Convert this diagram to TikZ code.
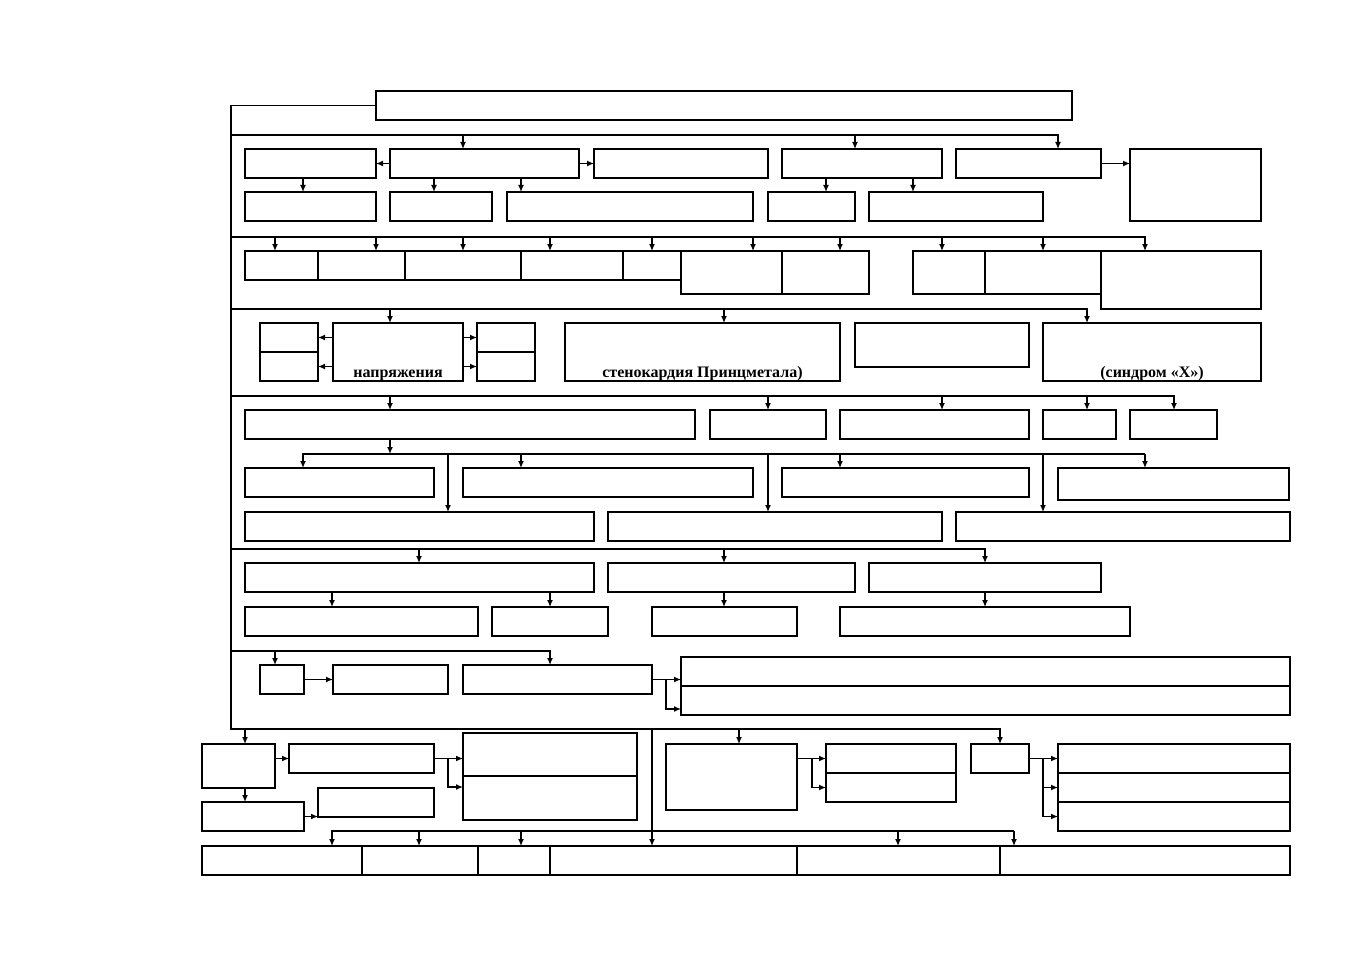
\documentclass[tikz,border=0pt]{standalone}
\usepackage{fontspec}
\setmainfont{Liberation Serif}
\usetikzlibrary{arrows.meta,fit,positioning}

\tikzset{
	blk/.style={draw,line width=1.3pt,inner sep=0pt,outer sep=0pt},
	ln/.style={line width=1.3pt},
	arr/.style={ln,-{Latex[length=7pt,width=6pt]}},
	lbl/.style={font=\fontsize{16}{18}\selectfont\bfseries,anchor=base,inner sep=0pt}
}
\newcommand{\bx}[5]{\node[blk,fit={(#2,#3) (#4,#5)}] (#1) {};}
\newcommand{\dnarr}[3]{\draw[arr] (#1,#2) -- (#1,0 |- #3.north);}
\newcommand{\vdarr}[3]{\draw[arr] (#1,0 |- #2.south) -- (#1,0 |- #3.north);}

\begin{document}
\begin{tikzpicture}[x=1pt,y=-1pt]
	\useasboundingbox (0,0) rectangle (1357,960);
	\bx{top}{376}{91}{1072}{120}
	\bx{a1}{245}{149}{376}{178}
	\bx{a2}{390}{149}{579}{178}
	\bx{a3}{594}{149}{768}{178}
	\bx{a4}{782}{149}{942}{178}
	\bx{a5}{956}{149}{1101}{178}
	\bx{a6}{1130}{149}{1261}{221}
	\bx{b1}{245}{192}{376}{221}
	\bx{b2}{390}{192}{492}{221}
	\bx{b3}{507}{192}{753}{221}
	\bx{b4}{768}{192}{855}{221}
	\bx{b5}{869}{192}{1043}{221}
	\bx{c1}{245}{251}{318}{280}
	\bx{c2}{318}{251}{405}{280}
	\bx{c3}{405}{251}{521}{280}
	\bx{c4}{521}{251}{623}{280}
	\bx{c5}{623}{251}{681}{280}
	\bx{c6}{681}{251}{782}{294}
	\bx{c7}{782}{251}{869}{294}
	\bx{d1}{913}{251}{985}{294}
	\bx{d2}{985}{251}{1101}{294}
	\bx{d3}{1101}{251}{1261}{309}
	\bx{e1}{260}{323}{318}{352}
	\bx{e2}{260}{352}{318}{381}
	\bx{nap}{333}{323}{463}{381}
	\bx{e3}{477}{323}{535}{352}
	\bx{e4}{477}{352}{535}{381}
	\bx{prinz}{565}{323}{840}{381}
	\bx{e5}{855}{323}{1029}{367}
	\bx{synx}{1043}{323}{1261}{381}
	\node[lbl] (napt) at ([yshift=4pt]nap.south) {напряжения};
	\node[lbl] (prinzt) at ([yshift=4pt]prinz.south) {стенокардия Принцметала)};
	\node[lbl] (synxt) at ([yshift=4pt]synx.south) {(синдром «X»)};
	\bx{f1}{245}{410}{695}{439}
	\bx{f2}{710}{410}{826}{439}
	\bx{f3}{840}{410}{1029}{439}
	\bx{f4}{1043}{410}{1116}{439}
	\bx{f5}{1130}{410}{1217}{439}
	\bx{g1}{245}{468}{434}{497}
	\bx{g2}{463}{468}{753}{497}
	\bx{g3}{782}{468}{1029}{497}
	\bx{g4}{1058}{468}{1289}{500}
	\bx{h1}{245}{512}{594}{541}
	\bx{h2}{608}{512}{942}{541}
	\bx{h3}{956}{512}{1290}{541}
	\bx{i1}{245}{563}{594}{592}
	\bx{i2}{608}{563}{855}{592}
	\bx{i3}{869}{563}{1101}{592}
	\bx{j1}{245}{607}{478}{636}
	\bx{j2}{492}{607}{608}{636}
	\bx{j3}{652}{607}{797}{636}
	\bx{j4}{840}{607}{1130}{636}
	\bx{k1}{260}{665}{304}{694}
	\bx{k2}{333}{665}{448}{694}
	\bx{k3}{463}{665}{652}{694}
	\bx{l1}{681}{657}{1290}{686}
	\bx{l2}{681}{686}{1290}{715}
	\bx{m1}{202}{744}{275}{788}
	\bx{m2}{289}{744}{434}{773}
	\bx{m3}{202}{802}{304}{831}
	\bx{m4}{318}{788}{434}{817}
	\bx{n1}{463}{733}{637}{776}
	\bx{n2}{463}{776}{637}{820}
	\bx{q1}{666}{744}{797}{810}
	\bx{q2}{826}{744}{956}{773}
	\bx{q3}{826}{773}{956}{802}
	\bx{r1}{971}{744}{1029}{773}
	\bx{s1}{1058}{744}{1290}{773}
	\bx{s2}{1058}{773}{1290}{802}
	\bx{s3}{1058}{802}{1290}{831}
	\bx{p1}{202}{846}{362}{875}
	\bx{p2}{362}{846}{478}{875}
	\bx{p3}{478}{846}{550}{875}
	\bx{p4}{550}{846}{797}{875}
	\bx{p5}{797}{846}{1000}{875}
	\bx{p6}{1000}{846}{1290}{875}

	\draw[arr] (top.west) -| (231,729) -| (1000,0 |- r1.north);
	\draw[arr] (231,135) -| (1058,0 |- a5.north);
	\dnarr{463}{135}{a2}
	\dnarr{855}{135}{a4}
	\draw[arr] (a2.west) -- (a1.east);
	\draw[arr] (a2.east) -- (a3.west);
	\draw[arr] (a5.east) -- (a5.east -| a6.west);
	\foreach \x/\s/\t in {303/a1/b1,434/a2/b2,521/a2/b3,826/a4/b4,913/a4/b5}
		{\vdarr{\x}{\s}{\t}}
	\draw[arr] (231,237) -| (1145,0 |- d3.north);
	\foreach \x/\t in {275/c1,376/c2,463/c3,550/c4,652/c5,753/c6,840/c7,942/d1,1043/d2}
		{\dnarr{\x}{237}{\t}}
	\draw[arr] (231,309) -| (1087,0 |- synx.north);
	\dnarr{390}{309}{nap}
	\dnarr{724}{309}{prinz}
	\draw[arr] (nap.west |- e1) -- (e1.east);
	\draw[arr] (nap.west |- e2) -- (e2.east);
	\draw[arr] (nap.east |- e3) -- (e3.west);
	\draw[arr] (nap.east |- e4) -- (e4.west);
	\draw[arr] (231,396) -| (1174,0 |- f5.north);
	\foreach \x/\t in {390/f1,768/f2,942/f3,1087/f4}
		{\dnarr{\x}{396}{\t}}
	\draw[arr] (390,0 |- f1.south) -- (390,454);
	\draw[arr] (1145,454) -| (303,0 |- g1.north);
	\foreach \x/\t in {521/g2,840/g3,1145/g4,448/h1,768/h2,1043/h3}
		{\dnarr{\x}{454}{\t}}
	\draw[arr] (231,549) -| (985,0 |- i3.north);
	\dnarr{419}{549}{i1}
	\dnarr{724}{549}{i2}
	\foreach \x/\s/\t in {332/i1/j1,550/i1/j2,724/i2/j3,985/i3/j4}
		{\vdarr{\x}{\s}{\t}}
	\draw[arr] (231,651) -| (550,0 |- k3.north);
	\dnarr{275}{651}{k1}
	\draw[arr] (k1) -- (k2);
	\draw[arr] (k3.east) -- (k3.east -| l1.west);
	\draw[arr] (666,0 |- k3.east) |- (0,709 -| l2.west);
	\dnarr{245}{729}{m1}
	\dnarr{739}{729}{q1}
	\draw[arr] (652,729) -- (652,0 |- p4.north);
	\draw[arr] (m1.east |- m2) -- (m2.west);
	\vdarr{245}{m1}{m3}
	\draw[arr] (m3.east) -- (m3.east -| m4.west);
	\draw[arr] (m2.east) -- (m2.east -| n1.west);
	\draw[arr] (448,0 |- m2.east) |- (0,787 -| n2.west);
	\draw[arr] (q1.east |- q2) -- (q2.west);
	\draw[arr] (812,0 |- q2.west) |- (q3.west);
	\draw[arr] (r1.east) -- (r1.east -| s1.west);
	\draw[arr] (1043,0 |- r1.east) |- (s2.west);
	\draw[arr] (1043,0 |- r1.east) |- (s3.west);
	\draw[arr] (1014,831) -| (332,0 |- p1.north);
	\foreach \x/\t in {419/p2,521/p3,898/p5,1014/p6}
		{\dnarr{\x}{831}{\t}}
\end{tikzpicture}
\end{document}
